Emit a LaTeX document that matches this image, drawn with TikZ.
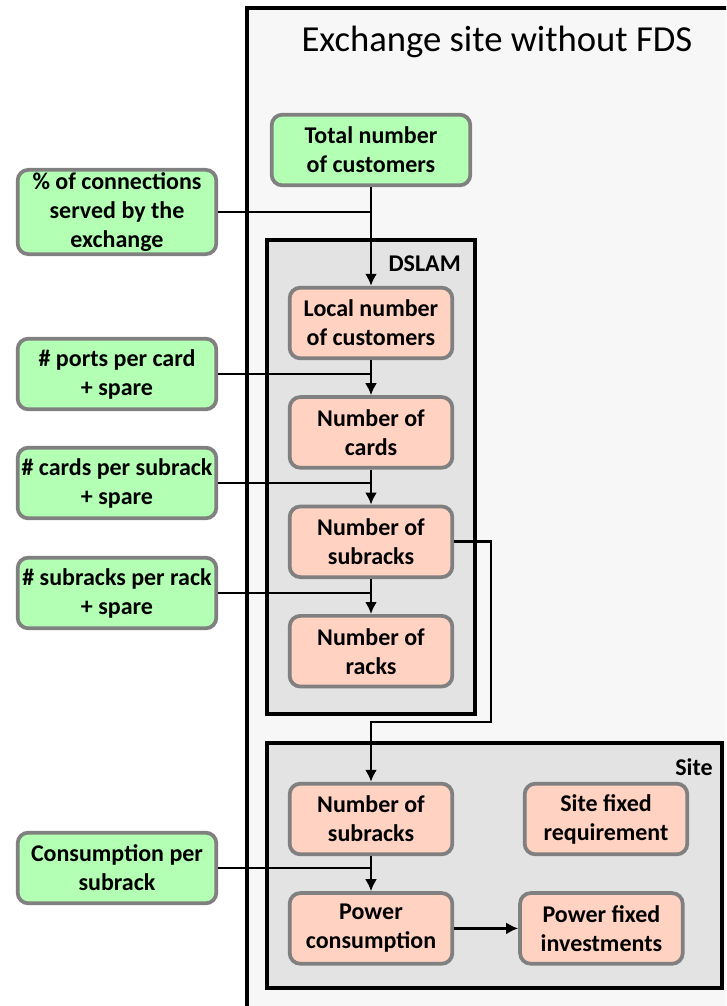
\documentclass[tikz,border=0pt]{standalone}
\usepackage{fontspec}
\setmainfont{Carlito}
\usepackage{xcolor}
\usetikzlibrary{arrows.meta, positioning}
\definecolor{inputgreen}{HTML}{B3FFB3}
\definecolor{calcpink}{HTML}{FFD2C2}
\definecolor{bordergray}{HTML}{808080}
\definecolor{sitebg}{HTML}{F7F7F7}
\definecolor{groupbg}{HTML}{E3E3E3}
\tikzset{
  block/.style={rectangle, draw=bordergray, line width=2.8pt, rounded corners=8pt, align=center,
    font=\fontsize{18}{21.75}\selectfont\bfseries, minimum width=122pt, minimum height=53pt, inner sep=2pt},
  input/.style={block, fill=inputgreen, minimum width=149pt},
  calcbox/.style={block, fill=calcpink},
  group/.style={draw=black, line width=3pt, fill=groupbg},
  grouplabel/.style={font=\fontsize{18}{21.75}\selectfont\bfseries, inner sep=0pt, anchor=north east},
  line/.style={line width=2.1pt, -{Latex[length=9pt,width=9pt]}},
  feed/.style={line width=2.1pt}
}

\begin{document}
\begin{tikzpicture}[x=0.75pt, y=-0.75pt, node distance=26.25pt and 48pt]
    \clip (0,0) rectangle (726,1006);
    \fill[white] (0,0) rectangle (726,1006);
    \draw[line width=3pt, fill=sitebg] (247,8) rectangle (780,1040);
    \node[font=\fontsize{27.5}{31}\selectfont] (title) at (497,42) {Exchange site without FDS};
    % DSLAM and site groups
    \draw[group] (267,240) rectangle (475,714);
    \draw[group] (267,743) rectangle (722,988);
    \node[grouplabel] (dslamlbl) at (461,255) {DSLAM};
    \node[grouplabel] (sitelbl) at (713,758) {Site};
    % calculation chain
    \node[input] (total) at (371,150) {Total number\\of customers};
    \node[calcbox] (local) at (371,323) {Local number\\of customers};
    \node[calcbox, below=of local] (cards) {Number of\\cards};
    \node[calcbox, below=of cards] (subracks) {Number of\\subracks};
    \node[calcbox, below=of subracks] (racks) {Number of\\racks};
    \node[calcbox] (sitesub) at (371,819) {Number of\\subracks};
    \node[calcbox, below=of sitesub] (power) {Power\\consumption};
    \node[calcbox, right=of power] (powinv) {Power fixed\\investments};
    \node[calcbox] (sitefix) at (606,819) {Site fixed\\requirement};
    % inputs
    \node[input] (share) at (117,212) {\% of connections\\served by the\\exchange};
    \node[input] (ports) at (117,374) {\# ports per card\\+ spare};
    \node[input] (cardsper) at (117,483) {\# cards per subrack\\+ spare};
    \node[input] (subper) at (117,593) {\# subracks per rack\\+ spare};
    \node[input] (cons) at (117,868) {Consumption per\\subrack};
    \coordinate (bend) at (491,722);
    \draw[line] (total) -- (local);
    \draw[line] (local) -- (cards);
    \draw[line] (cards) -- (subracks);
    \draw[line] (subracks) -- (racks);
    \draw[line] (sitesub) -- (power);
    \draw[line] (power) -- (powinv);
    \draw[line] (subracks.east) -| (bend) -| (sitesub.north);
    \draw[feed] (share.east) -- (share.east -| total);
    \draw[feed] (ports.east) -- (ports.east -| local);
    \draw[feed] (cardsper.east) -- (cardsper.east -| cards);
    \draw[feed] (subper.east) -- (subper.east -| subracks);
    \draw[feed] (cons.east) -- (cons.east -| sitesub);
  \end{tikzpicture}
\end{document}
